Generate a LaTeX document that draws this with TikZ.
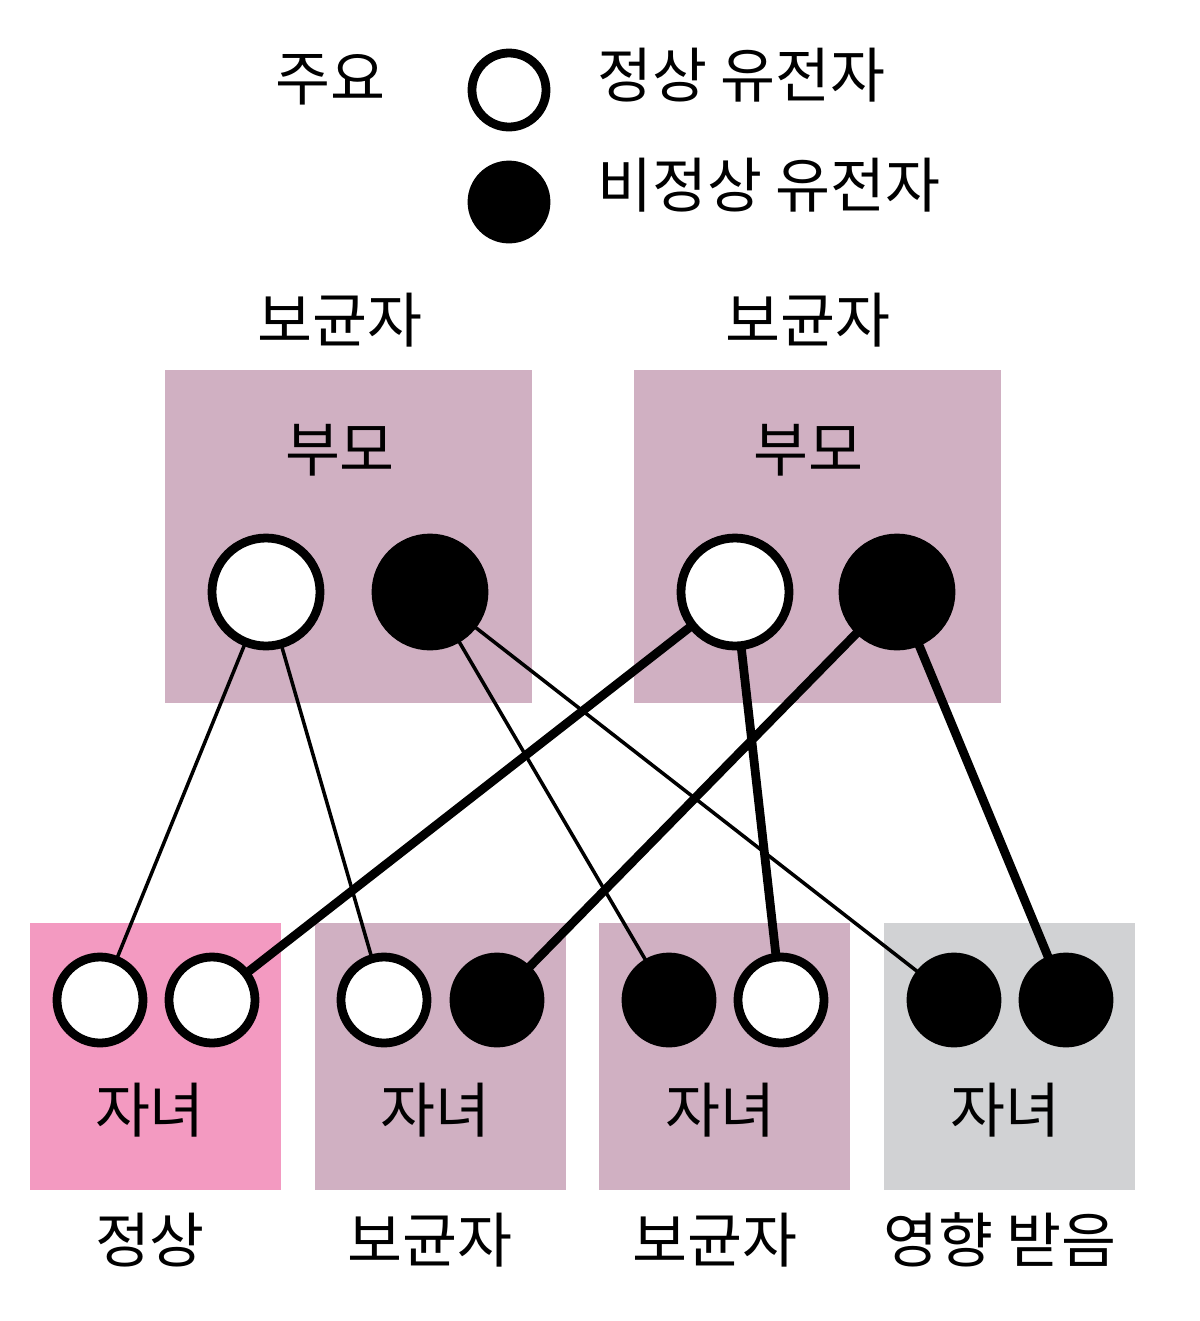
\documentclass[tikz,border=0pt]{standalone}
\usepackage{fontspec}
\setmainfont{Noto Sans CJK KR}
\definecolor{mauve}{RGB}{208,176,194}
\definecolor{rosy}{RGB}{243,154,193}
\definecolor{greybox}{RGB}{209,210,212}
\tikzset{
  lbl/.style={font=\fontsize{17}{19}\selectfont},
  pbox/.style={fill=mauve,minimum width=3.67cm,minimum height=3.33cm,inner sep=0},
  cbox/.style={minimum width=2.51cm,minimum height=2.67cm,inner sep=0},
  bigok/.style={circle,draw,line width=2.5pt,fill=white,minimum size=1.08cm,inner sep=0},
  bigbad/.style={circle,draw,line width=2.5pt,fill=black,minimum size=1.08cm,inner sep=0},
  ok/.style={circle,draw,line width=2.5pt,fill=white,minimum size=0.86cm,inner sep=0},
  bad/.style={circle,draw,line width=2.5pt,fill=black,minimum size=0.86cm,inner sep=0},
  thinl/.style={line width=1pt},
  thickl/.style={line width=2.5pt}
}
\begin{document}
\begin{tikzpicture}
\useasboundingbox (0,0) rectangle (12,-13.21);
% legend
\node[lbl] (key) at (3.3,-0.8) {주요};
\node[ok,minimum size=0.74cm] (kok) at (5.09,-0.9) {};
\node[bad,minimum size=0.74cm] (kbad) at (5.09,-2.02) {};
\node[lbl,anchor=west] (tok) at (5.85,-0.75) {정상 유전자};
\node[lbl,anchor=west] (tbad) at (5.85,-1.85) {비정상 유전자};
% parents
\node[lbl] (carL) at (3.4,-3.2) {보균자};
\node[lbl] (carR) at (8.08,-3.2) {보균자};
\node[pbox] (boxL) at (3.485,-5.365) {};
\node[pbox] (boxR) at (8.17,-5.365) {};
\node[lbl] (parL) at (3.4,-4.5) {부모};
\node[lbl] (parR) at (8.08,-4.5) {부모};
% children boxes
\node[cbox,fill=rosy] (c1) at (1.555,-10.565) {};
\node[cbox,fill=mauve] (c2) at (4.405,-10.565) {};
\node[cbox,fill=mauve] (c3) at (7.245,-10.565) {};
\node[cbox,fill=greybox] (c4) at (10.095,-10.565) {};
\foreach \n/\x in {1/1.5,2/4.35,3/7.2,4/10.05}
  \node[lbl] (kid\n) at (\x,-11.1) {자녀};
\node[lbl] (r1) at (1.5,-12.4) {정상};
\node[lbl] (r2) at (4.3,-12.4) {보균자};
\node[lbl] (r3) at (7.15,-12.4) {보균자};
\node[lbl] (r4) at (10.0,-12.4) {영향 받음};
% lines
\coordinate (pa) at (2.66,-5.92);
\coordinate (pb) at (4.30,-5.92);
\coordinate (pc) at (7.35,-5.92);
\coordinate (pd) at (8.97,-5.92);
\coordinate (ca) at (1.00,-10.0);
\coordinate (cb) at (2.12,-10.0);
\coordinate (cc) at (3.84,-10.0);
\coordinate (cd) at (4.97,-10.0);
\coordinate (ce) at (6.69,-10.0);
\coordinate (cf) at (7.81,-10.0);
\coordinate (cg) at (9.54,-10.0);
\coordinate (ch) at (10.66,-10.0);
\draw[thinl] (pa) -- (ca) (pa) -- (cc) (pb) -- (ce) (pb) -- (cg);
\draw[thickl] (pc) -- (cb) (pc) -- (cf) (pd) -- (cd) (pd) -- (ch);
% circles
\node[bigok] (P1) at (pa) {};
\node[bigbad] (P2) at (pb) {};
\node[bigok] (P3) at (pc) {};
\node[bigbad] (P4) at (pd) {};
\node[ok] (C1) at (ca) {};
\node[ok] (C2) at (cb) {};
\node[ok] (C3) at (cc) {};
\node[bad] (C4) at (cd) {};
\node[bad] (C5) at (ce) {};
\node[ok] (C6) at (cf) {};
\node[bad] (C7) at (cg) {};
\node[bad] (C8) at (ch) {};
\end{tikzpicture}
\end{document}
